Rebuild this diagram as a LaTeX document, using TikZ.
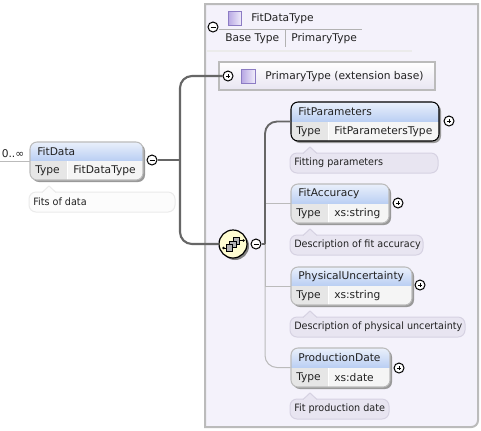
\documentclass[tikz,border=0pt]{standalone}
\usepackage{fontspec}
\setmainfont{DejaVu Sans}
\newfontfamily\notefont[FakeStretch=0.95]{DejaVu Sans}
\definecolor{panelbg}{HTML}{F4F2FB}
\definecolor{panelbd}{HTML}{BBBBBB}
\definecolor{titletop}{HTML}{EAF0FB}
\definecolor{titlebot}{HTML}{B9CEF3}
\definecolor{cellkey}{HTML}{E6E6E6}
\definecolor{cellval}{HTML}{F5F5F5}
\definecolor{notebd}{HTML}{D6D2E2}
\definecolor{notefill}{HTML}{E8E5F1}
\definecolor{trunk}{HTML}{666666}
\definecolor{branch}{HTML}{BBBBBB}
\definecolor{inktext}{HTML}{222222}
\definecolor{sqa}{HTML}{B9A9E4}
\definecolor{sqb}{HTML}{F1EEFB}
\definecolor{sqbd}{HTML}{8C7CC4}
\tikzset{
  x=0.75pt,y=-0.75pt,
  lbl/.style={inner sep=0pt,anchor=west,text=inktext,font=\fontsize{8pt}{9pt}\selectfont},
  notelbl/.style={inner sep=0pt,anchor=west,text=inktext,font=\notefont\fontsize{7.6pt}{9pt}\selectfont},
  ctl/.style={circle,draw=black,fill=white,line width=0.75pt,minimum size=7.5pt,inner sep=0pt},
  heavyline/.style={draw=trunk,line width=1.6pt,rounded corners=9pt},
  midline/.style={draw=trunk,line width=1.4pt,rounded corners=9pt},
  thinline/.style={draw=branch,line width=0.75pt,rounded corners=9pt},
  elemshape/.style={rounded corners=5.25pt},
  sq/.style={left color=sqa,right color=sqb,draw=sqbd,line width=0.75pt},
  seqbox/.style={fill=gray!60,draw=black,line width=0.6pt,minimum size=5pt,inner sep=0pt},
}
% id x1 y1 x2 y2 xdiv title type bordercolor
\newcommand{\elembox}[9]{%
  \fill[black!40,elemshape] (#2+2,#3+2) rectangle (#4+2,#5+2);
  \begin{scope}
    \clip[elemshape] (#2,#3) rectangle (#4,#5);
    \shade[top color=titletop,bottom color=titlebot] (#2,#3) rectangle (#4,#5-19);
    \fill[cellkey] (#2,#5-19) rectangle (#6,#5);
    \fill[cellval] (#6,#5-19) rectangle (#4,#5);
    \draw[white,line width=0.75pt] (#6,#5-19) -- (#6,#5);
  \end{scope}
  \draw[#9,line width=0.8pt,elemshape] (#2,#3) rectangle (#4,#5);
  \path (#2,#3) -- node[minimum width={(#4-(#2))*0.75pt},minimum height={(#5-(#3))*0.75pt},inner sep=0pt] (#1) {} (#4,#5);
  \node[lbl] (#1t) at (#2+7,#3+10) {#7};
  \node[lbl] at (#2+5,#5-9.5) {Type};
  \node[lbl] at (#6+6,#5-9.5) {#8};
}
% id x1 y1 x2 text fill border
\newcommand{\notebox}[7]{%
  \path[fill=#6,draw=#7,line width=0.75pt,rounded corners=5.25pt] (#2,#3) rectangle (#4,#3+20);
  \path[fill=#6,draw=#7,line width=0.75pt] (#2+13,#3+.5) -- (#2+20,#3-6) -- (#2+27,#3+.5);
  \fill[#6] (#2+14,#3) rectangle (#2+26,#3+1.5);
  \node[notelbl] (#1) at (#2+4,#3+10) {#5};
}
\newcommand{\minusctl}[3]{%
  \node[ctl] (#1) at (#2,#3) {};
  \draw[black,line width=0.75pt] (#2-2.5,#3) -- (#2+2.5,#3);
}
\newcommand{\plusctl}[3]{%
  \node[ctl] (#1) at (#2,#3) {};
  \draw[black,line width=0.6pt] (#2-2,#3) -- (#2+2,#3) (#2,#3-2) -- (#2,#3+2);
}
\begin{document}
\begin{tikzpicture}
\useasboundingbox (0,0) rectangle (481,430);
\fill[white] (0,0) rectangle (481,430);
% panel
\path[fill=panelbg,draw=panelbd,line width=1.5pt] (205,4) -- (478,4) [rounded corners=5pt] -- (478,427) [rounded corners=0pt] -- (205,427) -- cycle;
% panel header
\node[sq,minimum size=10pt,inner sep=0pt] (hsq) at (235,18.5) {};
\node[lbl] (hname) at (251,18.5) {FitDataType};
\node[lbl] (hbase) at (225,38.5) {Base Type};
\node[lbl] (hprim) at (291,38.5) {PrimaryType};
\coordinate (hr1) at (362,29);
\coordinate (hd1) at (285,30);
\coordinate (hd2) at (285,47);
\coordinate (hf1) at (207,51);
\coordinate (hf2) at (412,51);
\draw[gray!60,line width=0.75pt] (hd1) -- (hd2);
\draw[black!8,line width=0.9pt] (hf1) -- (hf2);
\minusctl{hminus}{213}{27}
\draw[gray!60,line width=0.75pt] (hminus.east |- hr1) -- (hr1);
% base box
\shade[top color=white,bottom color=notefill] (219,62) rectangle (435,90);
\draw[panelbd,line width=1.5pt] (219,62) rectangle (435,90);
\path (219,62) -- node[minimum width=162pt,minimum height=21pt,inner sep=0pt] (base) {} (435,90);
\node[sq,minimum size=10pt,inner sep=0pt] (bsq) at (248.5,76.5) {};
\node[lbl] (bname) at (265,76.5) {PrimaryType (extension base)};
% connector anchors
\coordinate (trunkm) at (180,160);
\coordinate (leftend) at (0,161);
\coordinate (seqtrunk) at (265,244);
% controls
\minusctl{fdminus}{152}{160}
\plusctl{bplus}{228}{76}
\minusctl{sminus}{256}{244}
\plusctl{fpplus}{449}{121}
\plusctl{faplus}{398}{203}
\plusctl{puplus}{420}{285}
\plusctl{pdplus}{399}{368}
% sequence symbol
\fill[black!50] (235,246) circle[radius=10.5pt];
\node[circle,draw=black,fill=yellow!18,line width=0.9pt,minimum size=21pt,inner sep=0pt] (seq) at (233,244) {};
\draw[black,line width=0.6pt] (223.5,248) -- (228,248) (240,240.5) -- (243.5,240.5);
\fill[black] (223.5,248) circle[radius=1pt] (243.5,240.5) circle[radius=1pt];
\node[seqbox] at (236.5,241) {};
\node[seqbox] at (233,244.5) {};
\node[seqbox] at (229.5,248) {};
% elements
\elembox{fd}{30}{142}{143}{180}{67}{FitData}{FitDataType}{panelbd}
\elembox{fp}{291}{102}{439}{141}{328}{FitParameters}{FitParametersType}{black}
\elembox{fa}{291}{184}{389}{223}{328}{FitAccuracy}{xs:string}{panelbd}
\elembox{pu}{291}{267}{412}{305}{328}{PhysicalUncertainty}{xs:string}{panelbd}
\elembox{pd}{291}{348}{390}{387}{328}{ProductionDate}{xs:date}{panelbd}
% notes
\notebox{fdn}{29}{192}{175}{Fits of data}{black!1}{black!8}
\notebox{fpn}{290}{153}{438}{Fitting parameters}{notefill}{notebd}
\notebox{fan}{290}{235}{423}{Description of fit accuracy}{notefill}{notebd}
\notebox{pun}{290}{317}{465}{Description of physical uncertainty}{notefill}{notebd}
\notebox{pdn}{290}{399}{389}{Fit production date}{notefill}{notebd}
% multiplicity
\node[lbl] (card) at (1.5,153.5) {0..∞};
% connectors
\draw[branch,line width=0.75pt] (leftend) -- (fd.west);
\draw[heavyline,line width=2.2pt,rounded corners=0pt] (fdminus.east) -- (trunkm);
\draw[heavyline] (bplus.west) -| (trunkm) |- (seq.west);
\draw[thinline] (seqtrunk) |- (pd.west);
\draw[branch,line width=0.75pt] (fa.west) -| (seqtrunk);
\draw[branch,line width=0.75pt] (pu.west) -| (seqtrunk);
\draw[midline] (fp.west) -| (seqtrunk);
\draw[midline,rounded corners=0pt] (sminus.east) -- (seqtrunk);
\end{tikzpicture}
\end{document}
